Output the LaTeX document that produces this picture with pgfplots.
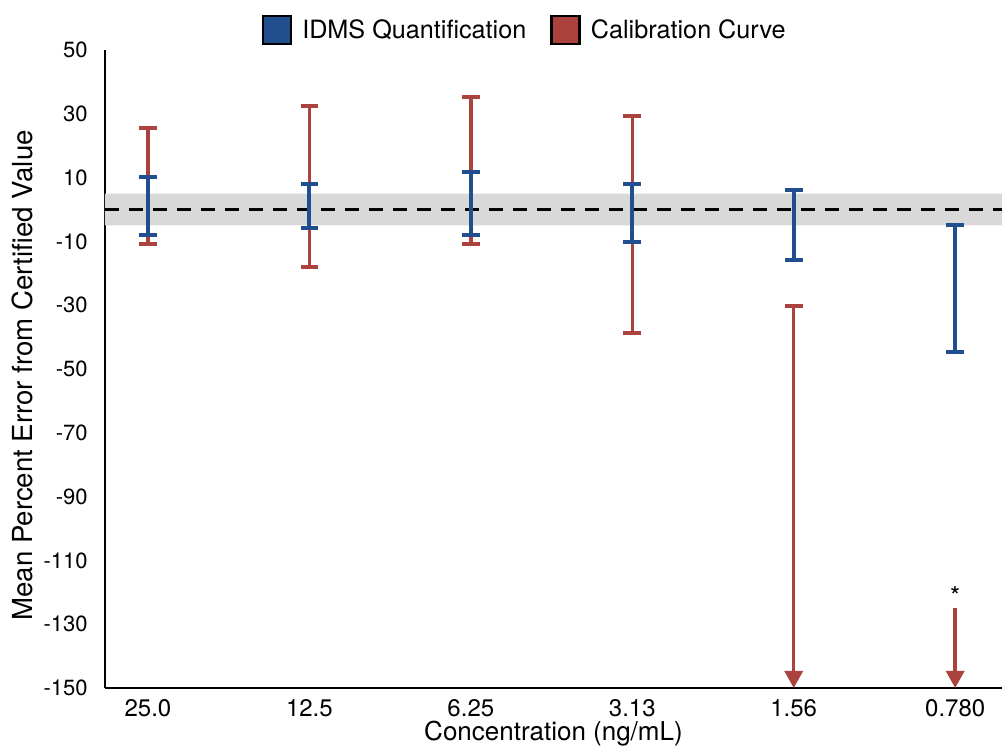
\documentclass[border=0pt]{standalone}
\usepackage{fontspec}
\setmainfont{TeX Gyre Heros}
\usepackage{pgfplots}
\pgfplotsset{compat=1.18}
\usetikzlibrary{arrows.meta}
\definecolor{idmsblue}{RGB}{33,78,143}
\definecolor{calred}{RGB}{172,66,62}
\begin{document}
\begin{tikzpicture}
\begin{axis}[
  scale only axis, width=448.5pt, height=319pt,
  xmin=-0.266, xmax=5.29, ymin=-150, ymax=50,
  axis lines=left, axis line style={-, line width=1.4pt},
  clip=false,
  xtick={0,1,2,3,4,5}, xticklabels={25.0,12.5,6.25,3.13,1.56,0.780},
  ytick={-150,-130,-110,-90,-70,-50,-30,-10,10,30,50},
  yticklabels={-150,-130,-110,-90,-70,-50,-30,-10,10,30,50},
  major tick length=0pt,
  xticklabel style={font=\fontsize{12}{14}\selectfont, anchor=base, yshift=-14.5pt},
  yticklabel style={font=\fontsize{11}{13}\selectfont, anchor=east, inner sep=0pt, xshift=-8.5pt},
  xlabel={Concentration (ng/mL)},
  xlabel style={font=\fontsize{13}{15}\selectfont, at={(axis description cs:0.5,-0.083)}, anchor=base},
  ylabel={Mean Percent Error from Certified Value},
  ylabel style={font=\fontsize{13.8}{16}\selectfont, at={(axis description cs:-0.0925,0.49)}, anchor=center},
  legend style={at={(0.469,1.031)}, anchor=center, draw=none, fill=none, legend columns=2,
    font=\fontsize{12.6}{15}\selectfont, /tikz/every even column/.append style={column sep=10pt}},
  legend cell align=left,
]
% reference band
\addplot[forget plot, draw=none, fill=gray!30] coordinates {(-0.266,-5) (5.29,-5) (5.29,5) (-0.266,5)} \closedcycle;
\addplot[forget plot, black, line width=1.8pt, dash pattern=on 7pt off 5pt] coordinates {(-0.266,0) (5.29,0)};
% calibration curve
\addplot[forget plot, draw=none, mark=none,
  error bars/.cd, y dir=both, y explicit,
  error bar style={draw=calred, line width=1.7pt},
  error mark options={rotate=90, draw=calred, line width=1.7pt, mark size=4.4pt}]
  coordinates {(0,7.35) +- (0,18.15) (1,7.2) +- (0,25.2) (2,12.25) +- (0,23.05) (3,-4.7) +- (0,34)};
\addplot[forget plot, calred, line width=1.7pt] coordinates {(3.9455,-30.3) (4.0545,-30.3)};
\addplot[forget plot, calred, line width=1.7pt, -{Triangle[width=9pt,length=8.5pt]}] coordinates {(4,-30.3) (4,-150)};
\addplot[forget plot, calred, line width=1.7pt, -{Triangle[width=9pt,length=8.5pt]}] coordinates {(5,-125) (5,-150)};
% IDMS
\addplot[forget plot, draw=none, mark=none,
  error bars/.cd, y dir=both, y explicit,
  error bar style={draw=idmsblue, line width=2pt},
  error mark options={rotate=90, draw=idmsblue, line width=2pt, mark size=4.4pt}]
  coordinates {(0,1.1) +- (0,9.1) (1,1.1) +- (0,6.9) (2,1.9) +- (0,9.9) (3,-1.1) +- (0,9.1) (4,-4.85) +- (0,10.95) (5,-24.8) +- (0,19.9)};
\node[font=\fontsize{13}{15}\selectfont, anchor=base] at (axis cs:5,-124) {*};
\addlegendimage{legend image code/.code={\draw[fill=idmsblue, draw=black, line width=1.2pt] (0pt,-7pt) rectangle (14pt,7pt); \path (17.5pt,0pt);}}
\addlegendentry{IDMS Quantification}
\addlegendimage{legend image code/.code={\draw[fill=calred, draw=black, line width=1.2pt] (0pt,-7pt) rectangle (14pt,7pt); \path (17.5pt,0pt);}}
\addlegendentry{Calibration Curve}
\end{axis}
\pgfresetboundingbox
\path ([xshift=-52.5pt, yshift=-30pt]current axis.south west) rectangle ([yshift=25pt]current axis.north east);
\end{tikzpicture}
\end{document}
